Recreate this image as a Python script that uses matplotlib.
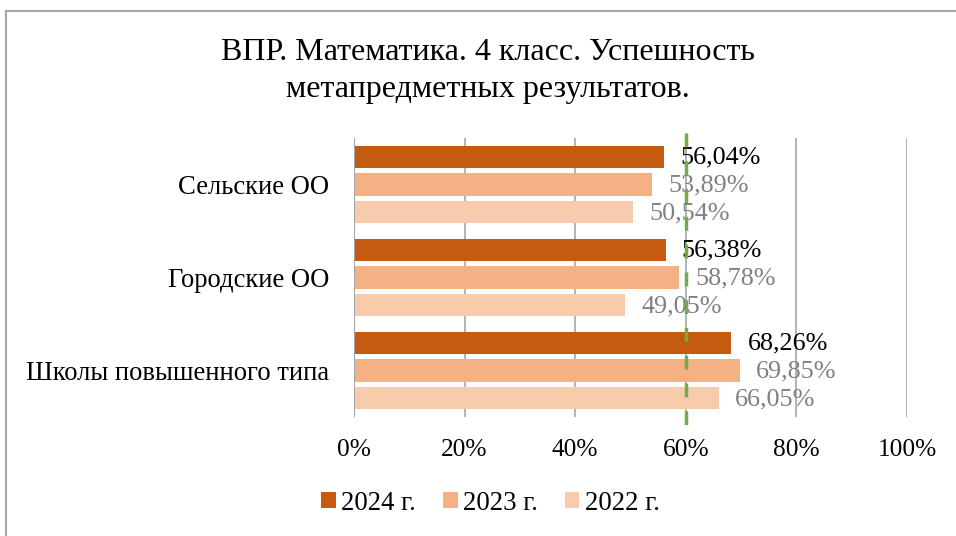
import matplotlib.pyplot as plt
from matplotlib.lines import Line2D
import numpy as np

plt.rcParams['font.family'] = ['Liberation Serif', 'DejaVu Serif']

categories = ['Сельские ОО', 'Городские ОО', 'Школы повышенного типа']
years = ['2024 г.', '2023 г.', '2022 г.']
values = {
    '2024 г.': [56.04, 56.38, 68.26],
    '2023 г.': [53.89, 58.78, 69.85],
    '2022 г.': [50.54, 49.05, 66.05],
}
colors = ['#C55A11', '#F4B183', '#F8CBAD']
label_colors = ['black', '#808080', '#808080']
ticks = [0, 20, 40, 60, 80, 100]
target = 60

fig = plt.figure(figsize=(9.56, 5.36), dpi=100)
ax = fig.add_axes([354/956, 1-417/536, 553/956, 279/536])

y = np.arange(len(categories))
offsets = [-0.296, 0, 0.296]
for year, off, c, lc in zip(years, offsets, colors, label_colors):
    vals = values[year]
    ax.barh(y + off, vals, height=0.237, color=c, label=year, zorder=2)
    for yi, v in zip(y, vals):
        ax.text(v + 2.9, yi + off + 0.01, f'{v:.2f}%'.replace('.', ','), color=lc,
                fontsize=18.8, va='center', ha='left', zorder=4)

ax.set_xlim(0, 100)
ax.set_ylim(2.5, -0.5)
ax.set_xticks(ticks)
ax.set_xticklabels([f'{t}%' for t in ticks])
ax.set_yticks(y)
ax.set_yticklabels(categories)
ax.tick_params(axis='both', length=0, labelsize=18.3)
ax.tick_params(axis='y', pad=18, labelsize=19.2)
ax.tick_params(axis='x', pad=16)
ax.grid(axis='x', color='#A6A6A6', linewidth=1.2, zorder=0)
ax.axvline(0, color='#A6A6A6', linewidth=1.5, zorder=3)
for s in ax.spines.values():
    s.set_visible(False)

# green dashed reference line at 60%
ax.plot([target, target], [-0.55, 2.64], color='#70AD47', linewidth=2.5,
        linestyle=(0, (4, 4)), clip_on=False, zorder=5)

fig.text(0.51, 1-53/536, 'ВПР. Математика. 4 класс. Успешность', ha='center', va='center', fontsize=23)
fig.text(0.51, 1-89/536, 'метапредметных результатов.', ha='center', va='center', fontsize=23)

fig.legend(loc='center', bbox_to_anchor=(0.513, 1-503/536), ncol=3, frameon=False,
           fontsize=19.3, handlelength=0.55, handleheight=0.55, handletextpad=0.2,
           columnspacing=1.0)

# border (top and left only visible)
fig.add_artist(Line2D([6/956, 1], [1-11/536, 1-11/536], color='#A6A6A6', linewidth=1.5))
fig.add_artist(Line2D([6/956, 6/956], [0, 1-11/536], color='#A6A6A6', linewidth=1.5))

fig.savefig('out.png', dpi=100)
